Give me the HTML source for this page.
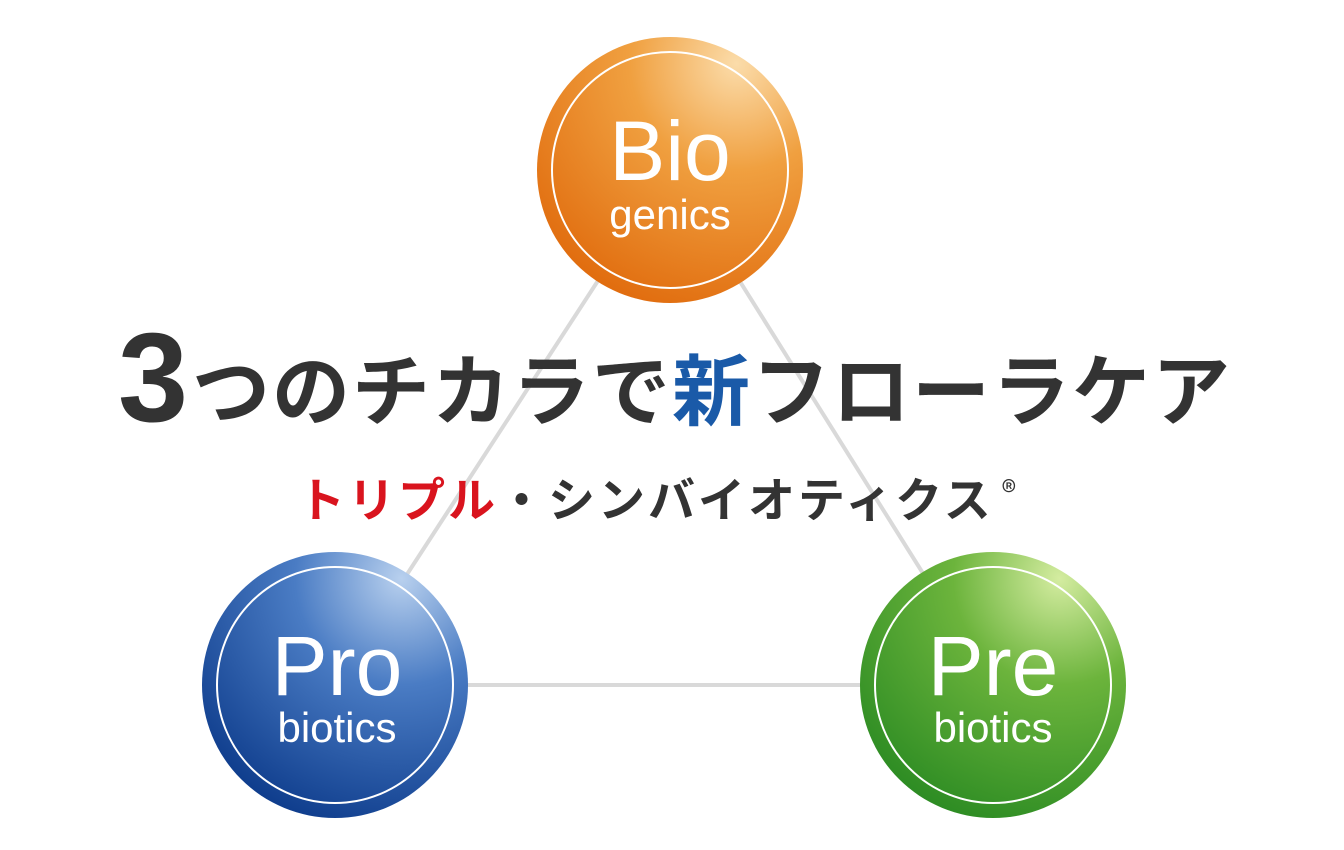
<!DOCTYPE html>
<html><head><meta charset="utf-8"><style>
html,body{margin:0;padding:0;background:#fff;}
body{width:1344px;height:850px;position:relative;overflow:hidden;font-family:"Liberation Sans","Noto Sans CJK JP",sans-serif;}
svg{position:absolute;left:0;top:0;}
.t{position:absolute;white-space:nowrap;font-family:"Noto Sans CJK JP","Liberation Sans",sans-serif;font-weight:700;color:#333;}
</style></head><body>
<svg width="1344" height="850" viewBox="0 0 1344 850">
<defs>
<radialGradient id="go" cx="0.75" cy="0.1" r="1">
<stop offset="0" stop-color="#fbdcaa"/><stop offset="0.4" stop-color="#f0a040"/><stop offset="1" stop-color="#e06a0c"/></radialGradient>
<radialGradient id="gb" cx="0.75" cy="0.1" r="1">
<stop offset="0" stop-color="#b8d0ee"/><stop offset="0.4" stop-color="#4a7cc4"/><stop offset="1" stop-color="#0c3a8a"/></radialGradient>
<radialGradient id="gg" cx="0.75" cy="0.1" r="1">
<stop offset="0" stop-color="#d4eca0"/><stop offset="0.4" stop-color="#6cb43c"/><stop offset="1" stop-color="#2a8a22"/></radialGradient>
</defs>
<g stroke="#d9d9d9" stroke-width="4" fill="none">
<line x1="670" y1="170" x2="335" y2="685"/>
<line x1="670" y1="170" x2="993" y2="685"/>
<line x1="335" y1="685" x2="993" y2="685"/>
</g>
<circle cx="670" cy="170" r="133" fill="url(#go)"/>
<circle cx="670" cy="170" r="118" fill="none" stroke="#fff" stroke-width="2"/>
<circle cx="335" cy="685" r="133" fill="url(#gb)"/>
<circle cx="335" cy="685" r="118" fill="none" stroke="#fff" stroke-width="2"/>
<circle cx="993" cy="685" r="133" fill="url(#gg)"/>
<circle cx="993" cy="685" r="118" fill="none" stroke="#fff" stroke-width="2"/>
<g fill="#fff" font-family="Liberation Sans, sans-serif" text-anchor="middle">
<text x="670" y="180" font-size="84">Bio</text>
<text x="670" y="229" font-size="42">genics</text>
<text x="337" y="695" font-size="84">Pro</text>
<text x="337" y="742" font-size="42">biotics</text>
<text x="993" y="695" font-size="84">Pre</text>
<text x="993" y="742" font-size="42">biotics</text>
</g>
</svg>
<div class="t" style="left:118px;top:315px;font-size:126px;line-height:126px;font-family:'Liberation Sans',sans-serif;">3</div>
<div class="t" style="left:192px;top:338px;font-size:78px;line-height:96px;letter-spacing:2px;">つのチカラで<span style="color:#1a5aa8">新</span>フローラケア</div>
<div class="t" style="left:298px;top:460px;font-size:47px;line-height:60px;letter-spacing:3px;"><span style="color:#d9141e">トリプル</span>・シンバイオティクス<span style="font-size:30px;vertical-align:14px;margin-left:8px;font-weight:400;">®</span></div>
</body></html>
